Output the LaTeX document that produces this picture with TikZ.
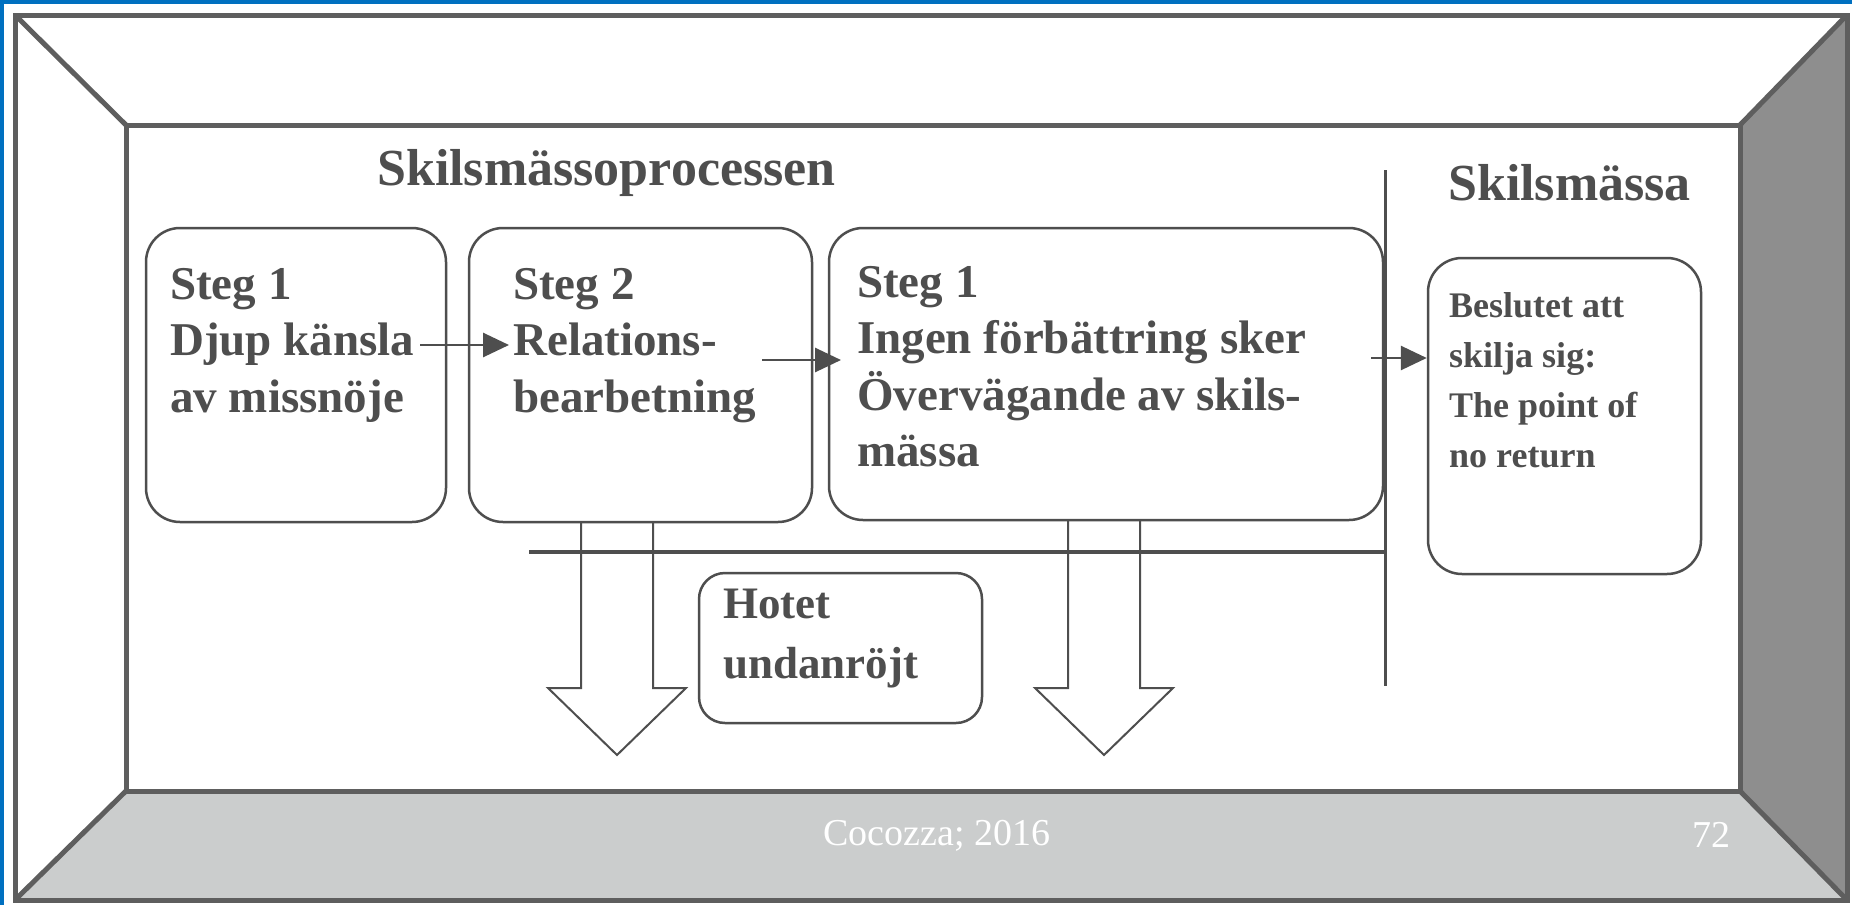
\documentclass[tikz,border=0pt]{standalone}
\usepackage{fontspec}
\setmainfont{Liberation Serif}
\usetikzlibrary{calc,arrows.meta,positioning}

\definecolor{ink}{HTML}{4E4E4E}
\definecolor{edge}{HTML}{5E5E5E}
\definecolor{slide}{HTML}{0070C0}
\definecolor{floor}{HTML}{CBCDCD}
\definecolor{wall}{HTML}{8E8E8E}

\tikzset{
  frame/.style={draw=edge, line width=5pt, line join=miter},
  stage/.style={draw=ink, line width=2.5pt, rounded corners=34pt, fill=white},
  stagetext/.style={anchor=north west, inner sep=0pt, align=left, text=ink,
    font=\fontsize{47}{56.5}\selectfont\bfseries},
  heading/.style={anchor=base west, inner sep=0pt, text=ink,
    font=\fontsize{52}{60}\selectfont\bfseries},
  flow/.style={draw=ink, line width=2.8pt, -{Stealth[length=26pt,width=24pt,inset=0pt]}},
  hollow/.style={draw=ink, line width=2pt, line join=miter},
  credit/.style={anchor=base west, inner sep=0pt, text=white,
    font=\fontsize{38}{44}\selectfont}
}

\begin{document}
\begin{tikzpicture}[x=1pt,y=-1pt]
  \useasboundingbox (0,0) rectangle (1852,905);
  \fill[slide] (0,0) rectangle (1852,905);
  \fill[white] (4,4) rectangle (1852,905);

  % room frame
  \coordinate (O1) at (15,15);
  \coordinate (O2) at (1847,15);
  \coordinate (O3) at (1847,900);
  \coordinate (O4) at (15,900);
  \coordinate (I1) at (126,125);
  \coordinate (I2) at (1740,125);
  \coordinate (I3) at (1740,791);
  \coordinate (I4) at (126,791);
  \fill[wall] (O2) -- (O3) -- (I3) -- (I2) -- cycle;
  \fill[floor] (O4) -- (O3) -- (I3) -- (I4) -- cycle;
  \draw[frame] (O1) rectangle (O3);
  \draw[frame] (I1) rectangle (I3);
  \foreach \o/\i in {O1/I1,O2/I2,O3/I3,O4/I4}
    \draw[frame] (\o) -- (\i);

  % headings
  \node[heading] (process) at (377,185) {Skilsmässoprocessen};
  \node[heading] (divorce) at (1448,200) {Skilsmässa};

  % stages
  \node[stage, minimum width=300pt, minimum height=294pt] (b1) at (296,375) {};
  \node[stage, minimum width=343pt, minimum height=294pt] (b2) at (640.5,375) {};
  \node[stage, minimum width=554pt, minimum height=292pt] (b3) at (1106,374) {};
  \node[stage, minimum width=273pt, minimum height=316pt] (b4) at (1564.5,416) {};
  \node[stage, rounded corners=26pt, minimum width=283pt, minimum height=150pt] (hot) at (840.5,648) {};

  \node[stagetext] (t1) at (170,268) {Steg 1\\Djup känsla\\av missnöje};
  \node[stagetext] (t2) at (513,268) {Steg 2\\Relations-\\bearbetning};
  \node[stagetext] (t3) at (857,266) {Steg 1\\Ingen förbättring sker\\Övervägande av skils-\\mässa};
  \node[stagetext, font=\fontsize{36}{50.2}\selectfont\bfseries] (t4) at (1449,292) {Beslutet att\\skilja sig:\\The point of\\no return};
  \node[stagetext, font=\fontsize{45}{60}\selectfont\bfseries] (t5) at (723,589) {Hotet\\undanröjt};

  % divider and bar
  \coordinate (vtop) at (1385,170);
  \coordinate (vbot) at (1385,686);
  \coordinate (bar) at (529,552);
  \draw[draw=ink, line width=3pt] (vtop) -- (vbot);
  \draw[draw=ink, line width=4.5pt] (bar) -- (bar -| vtop);

  % arrows
  \coordinate (a1s) at (420,345);
  \coordinate (a1e) at (509,345);
  \coordinate (a2s) at (762,360);
  \coordinate (a2e) at (841,360);
  \coordinate (a3s) at (1371,358);
  \draw[flow] (a1s) -- (a1e);
  \draw[flow] (a2s) -- (a2e);
  \draw[flow] (a3s) -- (a3s -| b4.west);

  \foreach \cx/\cy in {617/522,1104/520}
    \draw[hollow] (\cx-36,\cy) -- (\cx-36,688) -- (\cx-69,688) -- (\cx,755)
      -- (\cx+69,688) -- (\cx+36,688) -- (\cx+36,\cy);

  % credits
  \node[credit] (src) at (823,845) {Cocozza; 2016};
  \node[credit] (page) at (1692,847) {72};
\end{tikzpicture}
\end{document}
